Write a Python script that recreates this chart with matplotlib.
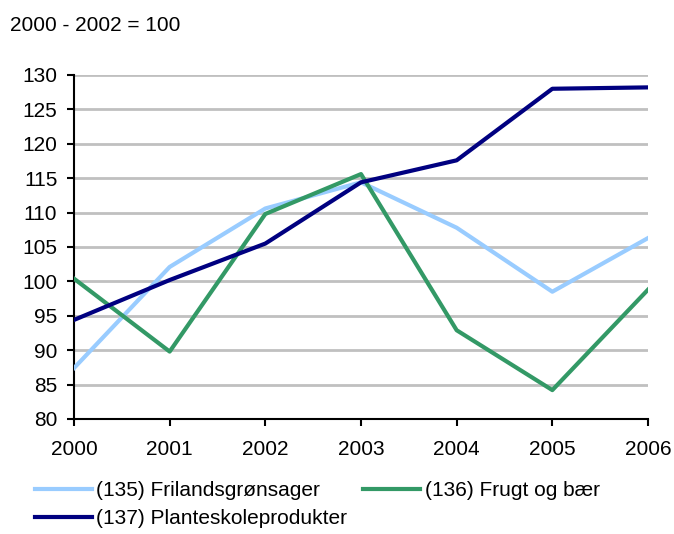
import matplotlib
matplotlib.use("Agg")
import matplotlib.pyplot as plt

years = [2000, 2001, 2002, 2003, 2004, 2005, 2006]
friland = [87.4, 102.1, 110.6, 114.4, 107.8, 98.5, 106.3]
frugt = [100.4, 89.8, 109.8, 115.6, 92.9, 84.2, 98.8]
plante = [94.4, 100.2, 105.5, 114.4, 117.6, 128.0, 128.2]
yticks = list(range(80, 131, 5))

plt.rcParams['font.family'] = ['Liberation Sans', 'DejaVu Sans']
fs = 15

fig = plt.figure(figsize=(6.74, 5.34), dpi=100)
ax = fig.add_axes([74/674, 1-419/534, (648-74)/674, (419-75)/534])

# horizontal gridlines (no line at the bottom, the axis sits there)
for y in yticks[1:]:
    ax.axhline(y, color='#c0c0c0', lw=2, zorder=1)

l1, = ax.plot(years, friland, color='#99ccff', lw=3, label='(135) Frilandsgrønsager', zorder=3)
l2, = ax.plot(years, frugt, color='#339966', lw=3, label='(136) Frugt og bær', zorder=3)
l3, = ax.plot(years, plante, color='#000080', lw=3, label='(137) Planteskoleprodukter', zorder=4)

ax.set_xlim(2000, 2006)
ax.set_ylim(80, 130)
ax.set_xticks(years)
ax.set_yticks(yticks)
ax.tick_params(labelsize=fs, width=1.5, length=5, color='black')
ax.tick_params(axis='y', pad=7)
ax.tick_params(axis='x', pad=10)
for s in ['top', 'right']:
    ax.spines[s].set_visible(False)
for s in ['left', 'bottom']:
    ax.spines[s].set_linewidth(1.5)

fig.text(10/674, 1-25.5/534, '2000 - 2002 = 100', fontsize=fs, va='center', ha='left')

# column-first fill: order so rows read 135, 136 / 137
fig.legend(handles=[l1, l3, l2], labels=[l1.get_label(), l3.get_label(), l2.get_label()],
           ncol=2, loc='upper left', bbox_to_anchor=(35/674, 1-481/534),
           frameon=False, fontsize=fs, handlelength=2.74, handletextpad=0.2,
           columnspacing=0.77, labelspacing=0.45, borderaxespad=0, borderpad=0)

fig.savefig('out.png', dpi=100)
